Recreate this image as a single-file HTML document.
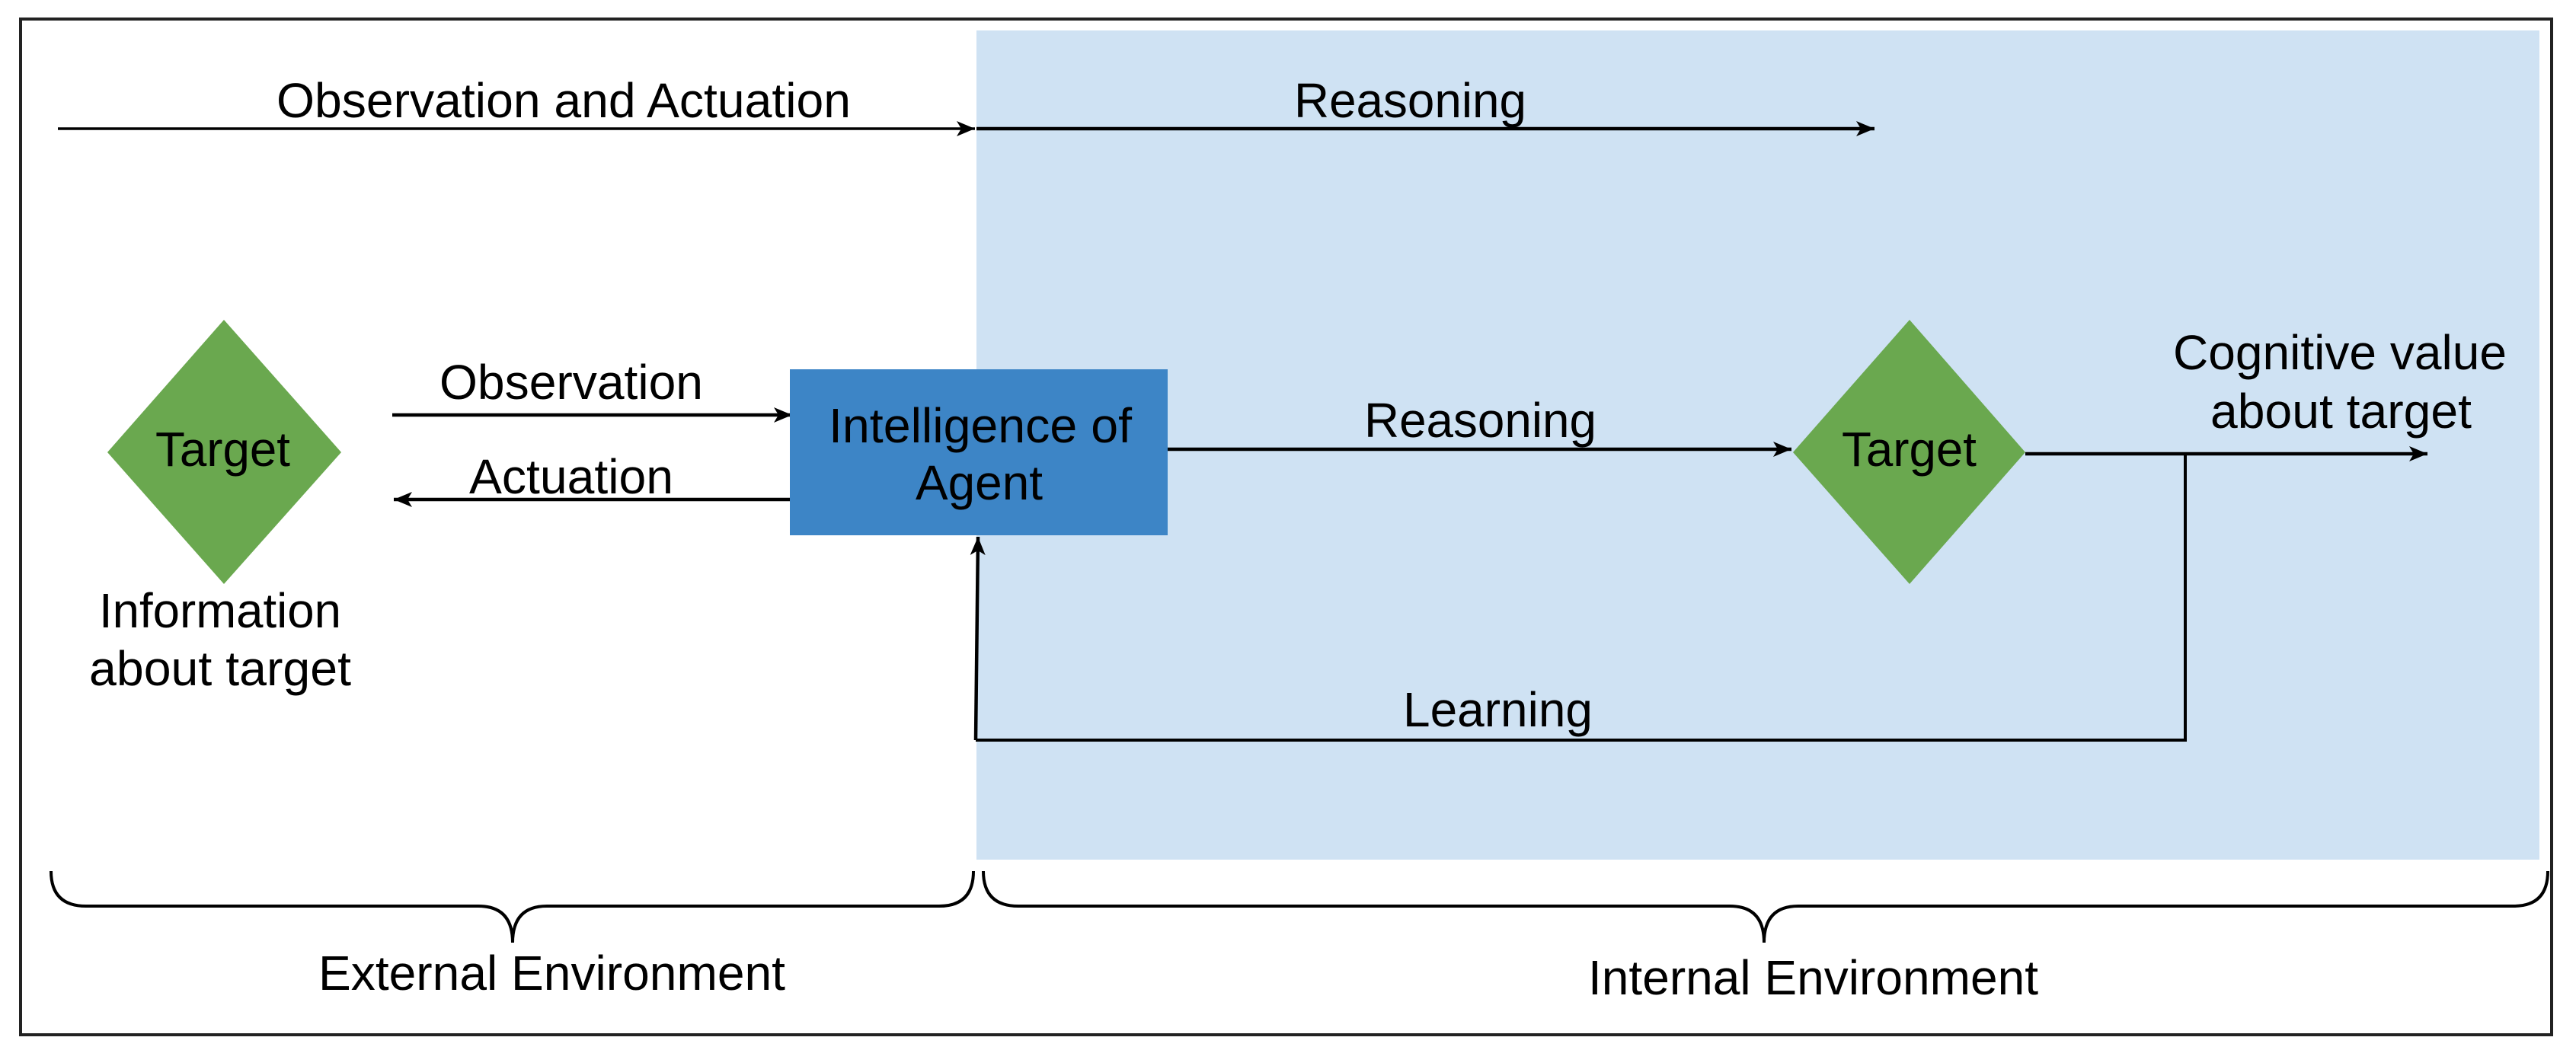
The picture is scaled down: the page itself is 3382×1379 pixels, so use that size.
<!DOCTYPE html>
<html><head><meta charset="utf-8"><style>html,body{margin:0;padding:0;background:#fff}svg{display:block}</style></head>
<body>
<svg width="3382" height="1379" viewBox="0 0 3382 1379" xmlns="http://www.w3.org/2000/svg" font-family="Liberation Sans, Arial, sans-serif" font-size="64" fill="#000">
<defs>
<marker id="a" markerUnits="userSpaceOnUse" markerWidth="30" markerHeight="24" refX="24" refY="10" orient="auto">
<path d="M0,0 L24,10 L0,20 L6,10 Z" fill="#000"/>
</marker>
</defs>
<rect x="27" y="25" width="3323" height="1334" fill="#fff" stroke="#222" stroke-width="4"/>
<rect x="1282" y="40" width="2052" height="1089" fill="#cfe2f3"/>
<line x1="76" y1="169" x2="1280" y2="169" stroke="#000" stroke-width="3.5" marker-end="url(#a)"/>
<line x1="1282" y1="169" x2="2461" y2="169" stroke="#000" stroke-width="4.5" marker-end="url(#a)"/>
<text x="363" y="154" textLength="754" lengthAdjust="spacingAndGlyphs">Observation and Actuation</text>
<text x="1699" y="154" textLength="305" lengthAdjust="spacingAndGlyphs">Reasoning</text>
<polygon points="294,420 448,594 294,767 141,594" fill="#6aa84f"/>
<text x="204" y="612" textLength="177" lengthAdjust="spacingAndGlyphs">Target</text>
<text x="130" y="824" textLength="318" lengthAdjust="spacingAndGlyphs">Information</text>
<text x="117" y="900" textLength="344" lengthAdjust="spacingAndGlyphs">about target</text>
<line x1="515" y1="545" x2="1040" y2="545" stroke="#000" stroke-width="4.5" marker-end="url(#a)"/>
<text x="577" y="524" textLength="346" lengthAdjust="spacingAndGlyphs">Observation</text>
<line x1="1042" y1="656" x2="517" y2="656" stroke="#000" stroke-width="4.5" marker-end="url(#a)"/>
<text x="616" y="648" textLength="268" lengthAdjust="spacingAndGlyphs">Actuation</text>
<rect x="1037" y="485" width="496" height="218" fill="#3d85c6"/>
<text x="1088" y="581" textLength="398" lengthAdjust="spacingAndGlyphs">Intelligence of</text>
<text x="1202" y="656" textLength="167" lengthAdjust="spacingAndGlyphs">Agent</text>
<line x1="1533" y1="590" x2="2352" y2="590" stroke="#000" stroke-width="4.5" marker-end="url(#a)"/>
<text x="1791" y="574" textLength="305" lengthAdjust="spacingAndGlyphs">Reasoning</text>
<polygon points="2507,420 2659,594 2507,767 2354,594" fill="#6aa84f"/>
<text x="2418" y="612" textLength="177" lengthAdjust="spacingAndGlyphs">Target</text>
<line x1="2659" y1="596" x2="3187" y2="596" stroke="#000" stroke-width="4.5" marker-end="url(#a)"/>
<text x="2853" y="485" textLength="438" lengthAdjust="spacingAndGlyphs">Cognitive value</text>
<text x="2902" y="562" textLength="343" lengthAdjust="spacingAndGlyphs">about target</text>
<polyline points="2869,596 2869,972 1281,972" fill="none" stroke="#000" stroke-width="4"/>
<line x1="1281" y1="972" x2="1284" y2="705" stroke="#000" stroke-width="4.5" marker-end="url(#a)"/>
<text x="1842" y="954" textLength="249" lengthAdjust="spacingAndGlyphs">Learning</text>
<path d="M67,1144 Q67,1190 113,1190 L628,1190 Q673,1190 673,1238 Q673,1190 718,1190 L1233,1190 Q1278,1190 1278,1144" fill="none" stroke="#000" stroke-width="4"/>
<path d="M1291,1144 Q1291,1190 1337,1190 L2271,1190 Q2316,1190 2316,1238 Q2316,1190 2361,1190 L3300,1190 Q3345,1190 3345,1144" fill="none" stroke="#000" stroke-width="4"/>
<text x="418" y="1300" textLength="613" lengthAdjust="spacingAndGlyphs">External Environment</text>
<text x="2085" y="1306" textLength="591" lengthAdjust="spacingAndGlyphs">Internal Environment</text>
</svg>
</body></html>
